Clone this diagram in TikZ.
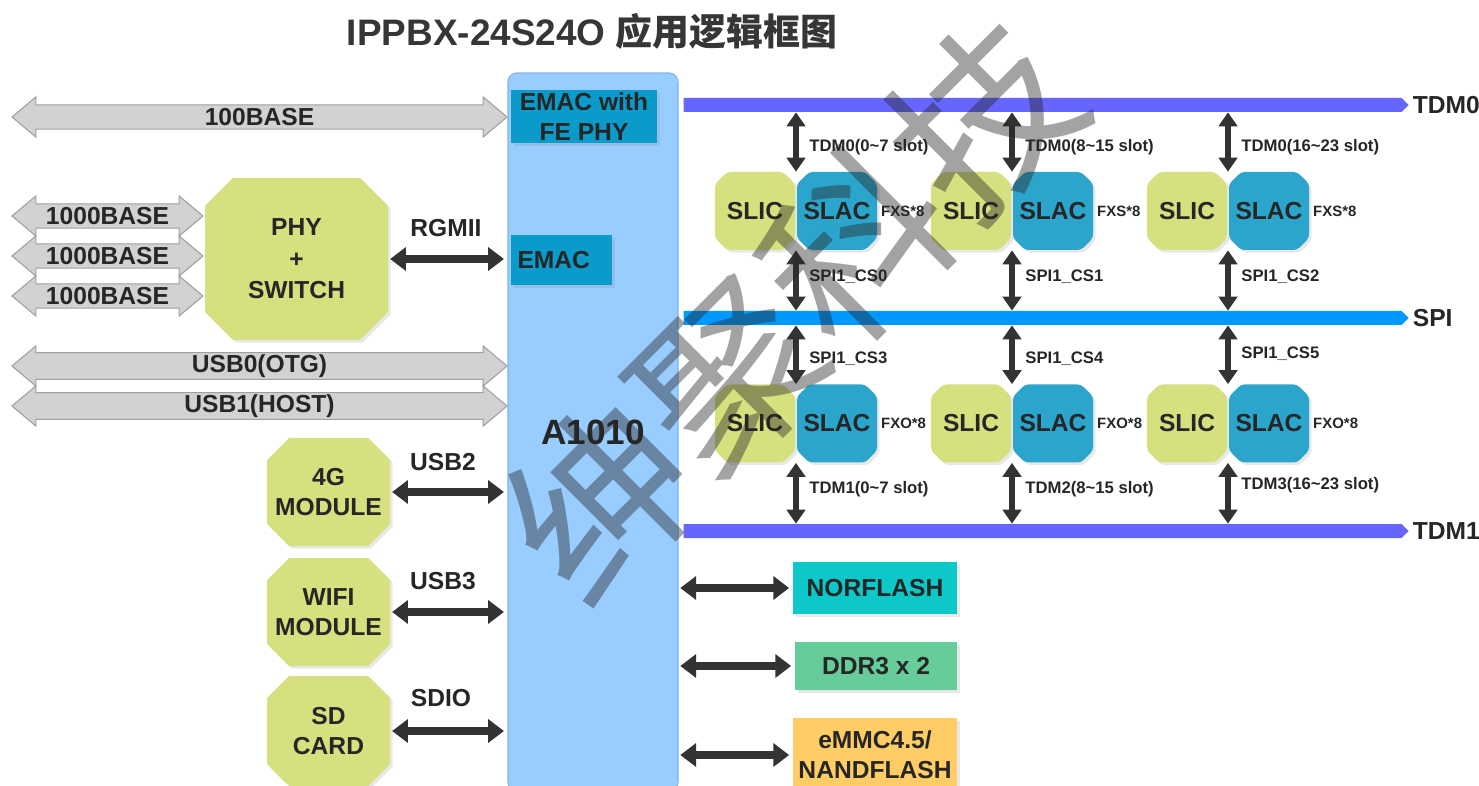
\documentclass[tikz,border=0pt]{standalone}
\usepackage{fontspec}
\setmainfont{Liberation Sans}
\newfontfamily\cjk{Noto Sans CJK SC}
\usetikzlibrary{shapes.misc,shapes.arrows,shapes.symbols,arrows.meta,shadows}
\definecolor{txtcol}{HTML}{262626}
\definecolor{titlecol}{HTML}{363636}
\definecolor{cpucol}{HTML}{99CCFF}
\definecolor{cpuline}{HTML}{7FB6EC}
\definecolor{emaccol}{HTML}{0A9BCB}
\definecolor{leafcol}{HTML}{D6E07E}
\definecolor{slaccol}{HTML}{2CA5CC}
\definecolor{tdmcol}{HTML}{6666FF}
\definecolor{spicol}{HTML}{0099FF}
\definecolor{norcol}{HTML}{0CC8C8}
\definecolor{ddrcol}{HTML}{66CC99}
\definecolor{emmccol}{HTML}{FFCC66}
\definecolor{arrcol}{HTML}{333333}
\def\pix{0.02cm}
\newcommand\bigf{\fontsize{14}{17}\selectfont\bfseries}
\newcommand\smallf{\fontsize{9.5}{11}\selectfont\bfseries}
\newcommand\wave{\textasciitilde}
\newcommand\cbox[1]{\makebox[20pt]{#1}}
\tikzset{
  shade box/.style={drop shadow={shadow xshift=1.5pt,shadow yshift=-1.5pt,opacity=0.18}},
  cpu/.style={rectangle,rounded corners=5pt,fill=cpucol,draw=cpuline,line width=0.6pt,
              font=\fontsize{20}{24}\selectfont\bfseries,text=txtcol},
  emac/.style={rectangle,fill=emaccol,shade box,font=\bigf,text=txtcol,inner sep=0pt},
  chip/.style={chamfered rectangle,chamfered rectangle xsep=#1,chamfered rectangle ysep=#1,
               fill=leafcol,shade box,inner sep=0pt,font=\bigf,text=txtcol,align=center},
  chip/.default=11*\pix,
  slic/.style={chip=6*\pix,rounded corners=2pt,minimum width=80*\pix,minimum height=78*\pix},
  slac/.style={slic,fill=slaccol},
  mem/.style={rectangle,fill=#1,shade box,font=\bigf,text=txtcol,inner sep=0pt,align=center},
  gray arrow/.style={double arrow,draw=gray!75,fill=gray!35,line width=0.6pt,
                     double arrow head extend=6*\pix,double arrow tip angle=80,
                     minimum width=40*\pix,inner xsep=0pt,inner ysep=0pt,font=\bigf,text=txtcol},
  bus/.style={signal,signal to=east,signal from=nowhere,fill=#1,inner sep=0pt,
              minimum height=14*\pix,minimum width=725*\pix},
  hlink/.style={draw=arrcol,line width=5pt,
                arrows={Triangle[width=13pt,length=9pt]-Triangle[width=13pt,length=9pt]},
                shorten <=1pt,shorten >=2pt},
  vlink/.style={draw=arrcol,line width=3.8pt,
                arrows={Triangle[width=10.5pt,length=8pt]-Triangle[width=10.5pt,length=8pt]}},
  lbl/.style={font=\bigf,text=txtcol,align=center},
  tag/.style={font=\smallf,text=txtcol,anchor=west,inner sep=0pt},
  chn/.style={font=\fontsize{8.5}{10}\selectfont\bfseries,text=txtcol,anchor=west,inner sep=0pt},
}

\begin{document}
\begin{tikzpicture}[x=0.02cm,y=-0.02cm]
  \useasboundingbox[fill=white] (0,0) rectangle (1479,786);

  % TITLE
  \node[font=\fontsize{21}{25}\selectfont\bfseries,text=titlecol] (title) at (592,31)
    {IPPBX-24S24O {\cjk 应用逻辑框图}};

  % CPU
  \node[cpu,minimum width=170*\pix,minimum height=718*\pix] (cpu) at (593,432) {A1010};
  \node[emac,minimum width=146*\pix,minimum height=53*\pix,align=center] (fephy) at (584,116.5)
    {EMAC with\\FE PHY};
  \node[emac,minimum width=101*\pix,minimum height=50*\pix,text width=88*\pix,align=left,
        inner xsep=6*\pix] (emac) at (561.5,260) {EMAC};

  % LEFT SIDE
  \node[gray arrow,minimum height=495*\pix] (base100) at (259.5,117) {100BASE};
  \foreach \n/\y in {1/216,2/256,3/296}{
    \node[gray arrow,minimum height=191*\pix] (gbase\n) at (107.5,\y) {1000BASE};
  }
  \node[gray arrow,minimum height=495*\pix] (usb0) at (259.5,366) {USB0(OTG)};
  \node[gray arrow,minimum height=495*\pix] (usb1) at (259.5,406) {USB1(HOST)};

  \node[chip=14*\pix,minimum width=183*\pix,minimum height=162*\pix] (phy) at (296.5,259)
    {\cbox{PHY}\\[1pt]\cbox{+}\\[1pt]\cbox{SWITCH}};
  \node[chip,minimum width=123*\pix,minimum height=108*\pix] (lte) at (328.5,492)
    {\cbox{4G}\\\cbox{MODULE}};
  \node[chip,minimum width=123*\pix,minimum height=108*\pix] (wifi) at (328.5,612)
    {\cbox{WIFI}\\\cbox{MODULE}};
  \node[chip,minimum width=123*\pix,minimum height=110*\pix] (sd) at (328.5,731)
    {\cbox{SD}\\\cbox{CARD}};

  \draw[hlink] (phy.east) -- (phy.east -| cpu.west);
  \draw[hlink] (lte.east) -- (lte.east -| cpu.west);
  \draw[hlink] (wifi.east) -- (wifi.east -| cpu.west);
  \draw[hlink] (sd.east) -- (sd.east -| cpu.west);
  \node[lbl] (rgmii) at (446,228) {RGMII};
  \node[lbl] (usb2) at (443,462) {USB2};
  \node[lbl] (usb3) at (443,581) {USB3};
  \node[lbl] (sdio) at (441,698) {SDIO};

  % BUSES
  \node[bus=tdmcol] (tdm0) at (1042.5,105) {};
  \node[bus=spicol] (spi) at (1042.5,318) {};
  \node[bus=tdmcol] (tdm1) at (1042.5,531) {};
  \node[lbl,anchor=west,inner xsep=2pt] (tdm0lbl) at (tdm0.east) {TDM0};
  \node[lbl,anchor=west,inner xsep=2pt] (spilbl) at (spi.east) {SPI};
  \node[lbl,anchor=west,inner xsep=2pt] (tdm1lbl) at (tdm1.east) {TDM1};

  % SLIC / SLAC PAIRS
  \foreach \i/\rng/\yc/\yd [evaluate={\jx=796+216*\i; \k=int(\i+1); \c=int(\i+3);}]
      in {0/0\wave7/359/489,1/8\wave15/359/489,2/16\wave23/354/485}{
    \coordinate (j\i) at (\jx,318);
    \node[slic] (slicA\i) at (\jx-41,211) {\cbox{SLIC}};
    \node[slac] (slacA\i) at (\jx+41,211) {\cbox{SLAC}};
    \node[slic] (slicB\i) at (\jx-41,423.5) {\cbox{SLIC}};
    \node[slac] (slacB\i) at (\jx+41,423.5) {\cbox{SLAC}};
    \node[chn,xshift=2pt] (fxs\i) at (slacA\i.east) {FXS*8};
    \node[chn,xshift=2pt] (fxo\i) at (slacB\i.east) {FXO*8};

    \draw[vlink] (tdm0.south -| j\i) -- (slicA\i.north -| j\i);
    \draw[vlink] (slicA\i.south -| j\i) -- (spi.north -| j\i);
    \draw[vlink] (spi.south -| j\i) -- (slicB\i.north -| j\i);
    \draw[vlink] (slicB\i.south -| j\i) -- (tdm1.north -| j\i);

    \node[tag] (slotA\i) at (\jx+13,147) {TDM0(\rng{} slot)};
    \node[tag] (csA\i) at (\jx+13,277) {SPI1\_CS\i};
    \node[tag] (csB\i) at (\jx+13,\yc) {SPI1\_CS\c};
    \node[tag] (slotB\i) at (\jx+13,\yd) {TDM\k(\rng{} slot)};
  }

  % MEMORIES
  \node[mem=norcol,minimum width=164*\pix,minimum height=52*\pix] (nor) at (875,588) {NORFLASH};
  \node[mem=ddrcol,minimum width=162*\pix,minimum height=48*\pix] (ddr) at (876,666) {DDR3 x 2};
  \node[mem=emmccol,minimum width=164*\pix,minimum height=74*\pix] (emmc) at (875,755)
    {eMMC4.5/\\NANDFLASH};
  \draw[hlink] (nor.west -| cpu.east) -- (nor.west);
  \draw[hlink] (ddr.west -| cpu.east) -- (ddr.west);
  \draw[hlink] (emmc.west -| cpu.east) -- (emmc.west);

  % WATERMARK
  \node[rotate=45,text=black!85,opacity=0.42,inner sep=0pt,
        font=\cjk\fontsize{103}{110}\selectfont] (mark) at (792,310) {绅聚科技};
\end{tikzpicture}
\end{document}
